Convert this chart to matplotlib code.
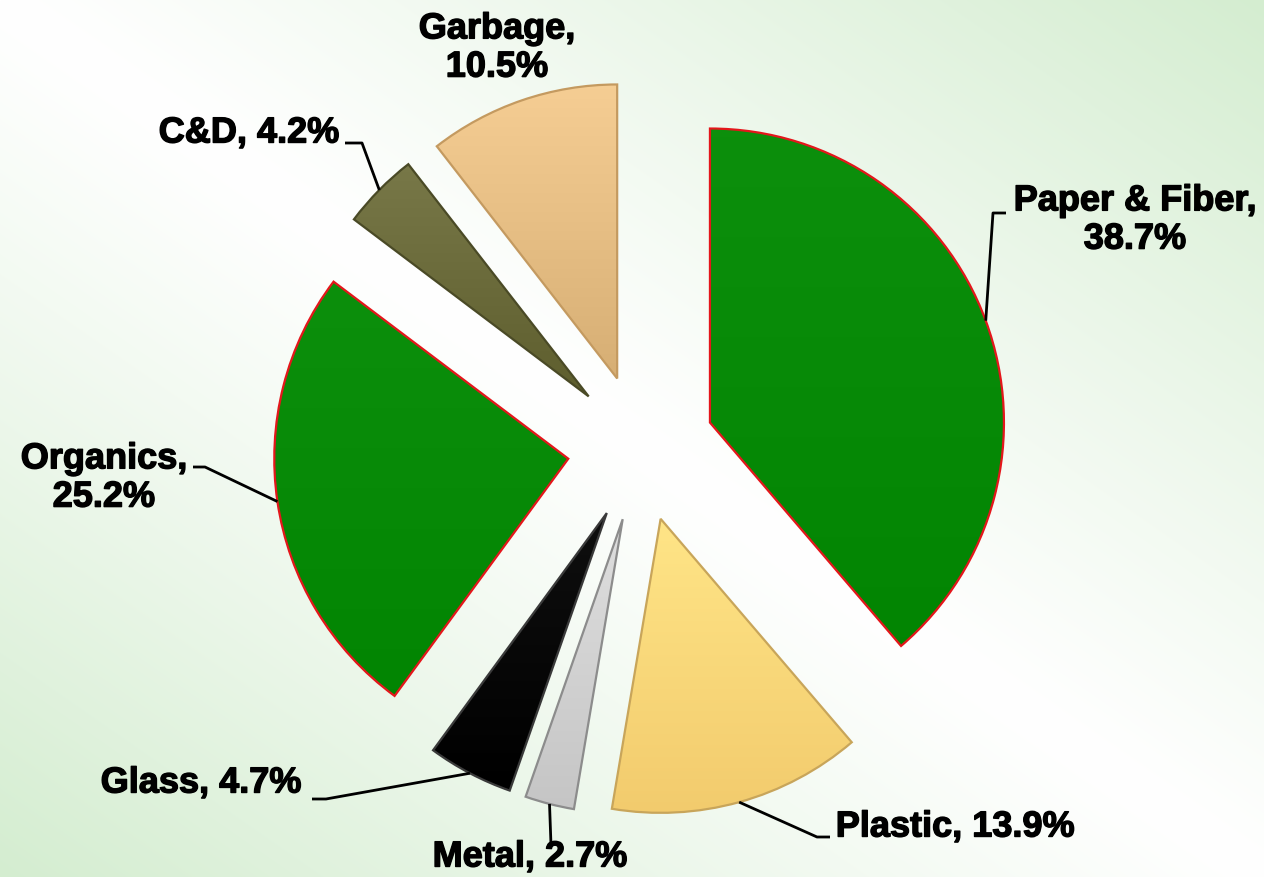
import numpy as np
import matplotlib
matplotlib.use("Agg")
from matplotlib import pyplot as plt
from matplotlib import patheffects as pe
from matplotlib.colors import to_rgb

# data
categories = ["Paper & Fiber", "Plastic", "Metal", "Glass", "Organics", "C&D", "Garbage"]
shares = [38.7, 13.9, 2.7, 4.7, 25.2, 4.2, 10.5]

# styles
face_colors = ["#078A07", "#FFD87A", "#D2D2D2", "#050505", "#078A07", "#6B6B3B", "#E6BE84"]
edge_colors = ["#E4161B", "#C8A55A", "#8C8C8C", "#3A3A3A", "#E4161B", "#4A4A26", "#C49A60"]
shade_amt = [0.02, 0.05, 0.05, 0.04, 0.02, 0.05, 0.06]

W, H = 1264, 877
CX, CY, R = 641, 448, 294   # pie centre and radius in pixels


def px(x, y):
    # image pixel -> data units (radius 1)
    return ((x - CX) / R, (CY - y) / R)


# label block centres (image pixels) and leader elbows
label_pos = [(1135, 220), (955, 827), (530, 857), (201, 783), (104, 478), (249, 133), (497, 48)]
leader_pts = [
    [(993, 213), (1006, 213)],
    [(817, 837), (830, 837)],
    [(551, 845)],
    [(326, 799), (312, 799)],
    [(205, 467), (193, 467)],
    [(362, 143), (345, 143)],
    None,
]
two_line = [True, False, False, False, True, False, True]

fig = plt.figure(figsize=(W / 100, H / 100), dpi=100)

# background gradient: white along the TL-BR diagonal, green to BL / TR corners
bg = fig.add_axes([0, 0, 1, 1])
yy, xx = np.mgrid[0:H, 0:W]
t = np.abs(xx / W - yy / H)
t = np.clip(t, 0, 1) ** 1.1
white = np.array([1.0, 1.0, 1.0])
green = np.array([212, 237, 208]) / 255
img = white[None, None, :] * (1 - t[..., None]) + green[None, None, :] * t[..., None]
bg.imshow(img, extent=(0, W, H, 0), aspect="auto")
bg.axis("off")

ax = fig.add_axes([0, 0, 1, 1])
ax.patch.set_alpha(0)
wedges, _ = ax.pie(shares, explode=[0.25] * len(shares), startangle=90,
                   counterclock=False, radius=1, colors=face_colors,
                   wedgeprops=dict(linewidth=1.6))
for w, ec in zip(wedges, edge_colors):
    w.set_edgecolor(ec)

# soft vertical shading inside each wedge
for w, fc, amt in zip(wedges, face_colors, shade_amt):
    base = np.array(to_rgb(fc))
    bb = w.get_path().get_extents()
    g = np.linspace(1, 0, 64)[:, None, None]
    light = np.clip(base + amt, 0, 1)
    dark = np.clip(base - amt, 0, 1)
    shade = np.repeat(dark * (1 - g) + light * g, 4, axis=1)
    im = ax.imshow(shade, extent=(bb.x0, bb.x1, bb.y0, bb.y1), aspect="auto",
                   zorder=w.get_zorder() + 0.1, interpolation="bilinear")
    im.set_clip_path(w)
    w.set_zorder(w.get_zorder() + 0.2)
    w.set_facecolor("none")

ax.set_xlim(-CX / R, (W - CX) / R)
ax.set_ylim(-(H - CY) / R, CY / R)
ax.set_aspect("equal")
ax.axis("off")

stroke = [pe.withStroke(linewidth=1.0, foreground="black")]
for w, name, val, pos, pts, two in zip(wedges, categories, shares, label_pos, leader_pts, two_line):
    sep = ",\n" if two else ", "
    ax.text(*px(*pos), f"{name}{sep}{val}%", ha="center", va="center",
            fontsize=26, fontweight="bold", family=["Liberation Sans", "DejaVu Sans"],
            linespacing=1.12, path_effects=stroke, zorder=5)
    if pts is None:
        continue
    mid = np.deg2rad((w.theta1 + w.theta2) / 2)
    ax0 = w.center[0] + w.r * np.cos(mid)
    ay0 = w.center[1] + w.r * np.sin(mid)
    xs = [ax0] + [px(*p)[0] for p in pts]
    ys = [ay0] + [px(*p)[1] for p in pts]
    ax.plot(xs, ys, color="black", lw=2.0, zorder=4, solid_capstyle="butt")

fig.savefig("out.png", dpi=100)
